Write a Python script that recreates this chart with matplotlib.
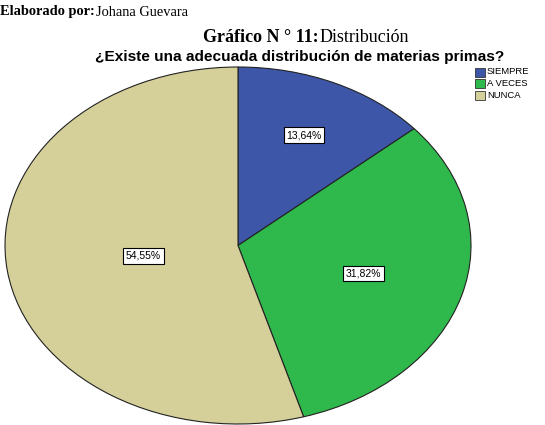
import matplotlib
matplotlib.use("Agg")
import matplotlib.pyplot as plt
import numpy as np

W, H, DPI = 545, 425, 100

categories = ["SIEMPRE", "A VECES", "NUNCA"]
values = [13.64, 31.82, 54.55]
pct_labels = ["13,64%", "31,82%", "54,55%"]
colors = ["#3d56a8", "#2fb84c", "#d5cf9a"]
label_r = [0.68, 0.56, 0.41]

fig = plt.figure(figsize=(W / DPI, H / DPI), dpi=DPI)
fig.patch.set_facecolor("white")

# header texts (pixel positions from top-left)
fig.text(0 / W, 1 - 12 / H, "Elaborado por:", fontsize=10.4, fontweight="bold",
         family="Liberation Serif", va="center", ha="left")
fig.text(96 / W, 1 - 12 / H, "Johana Guevara", fontsize=10.4,
         family="Liberation Serif", va="center", ha="left")
fig.text(203 / W, 1 - 38 / H, "Gráfico N ° 11:", fontsize=13, fontweight="bold",
         family="Liberation Serif", va="center", ha="left")
fig.text(320 / W, 1 - 38 / H, "Distribución", fontsize=13,
         family="Liberation Serif", va="center", ha="left")
fig.text(300 / W, 1 - 57 / H, "¿Existe una adecuada distribución de materias primas?",
         fontsize=11.1, fontweight="bold", family="Liberation Sans",
         va="center", ha="center")

# ellipse-shaped pie: axes box in pixel coords, aspect left free
cx, cy, rx, ry = 238, 245.5, 233, 178.5
ax = fig.add_axes([(cx - rx) / W, (H - cy - ry) / H, 2 * rx / W, 2 * ry / H])
wedges, _ = ax.pie(values, colors=colors, startangle=90, counterclock=False,
                   wedgeprops=dict(edgecolor="#222222", linewidth=0.8))
ax.set_aspect("auto")
ax.set_xlim(-1, 1)
ax.set_ylim(-1, 1)

for w, lab, r in zip(wedges, pct_labels, label_r):
    ang = np.deg2rad((w.theta1 + w.theta2) / 2)
    ax.text(r * np.cos(ang), r * np.sin(ang), lab, fontsize=7.5,
            family="Liberation Sans", ha="center", va="center",
            bbox=dict(boxstyle="square,pad=0.25", fc="white", ec="black", lw=0.8))

# legend
lx, ly = 475, 72
for i, (cat, col) in enumerate(zip(categories, colors)):
    y = ly + i * 11.5
    fig.patches.append(plt.Rectangle((lx / W, 1 - (y + 4.5) / H), 10 / W, 9 / H,
                                     transform=fig.transFigure, fc=col,
                                     ec="#333333", lw=0.6))
    fig.text((lx + 12) / W, 1 - y / H, cat, fontsize=6.8, family="Liberation Sans",
             va="center", ha="left")

fig.savefig("out.png", dpi=DPI)
